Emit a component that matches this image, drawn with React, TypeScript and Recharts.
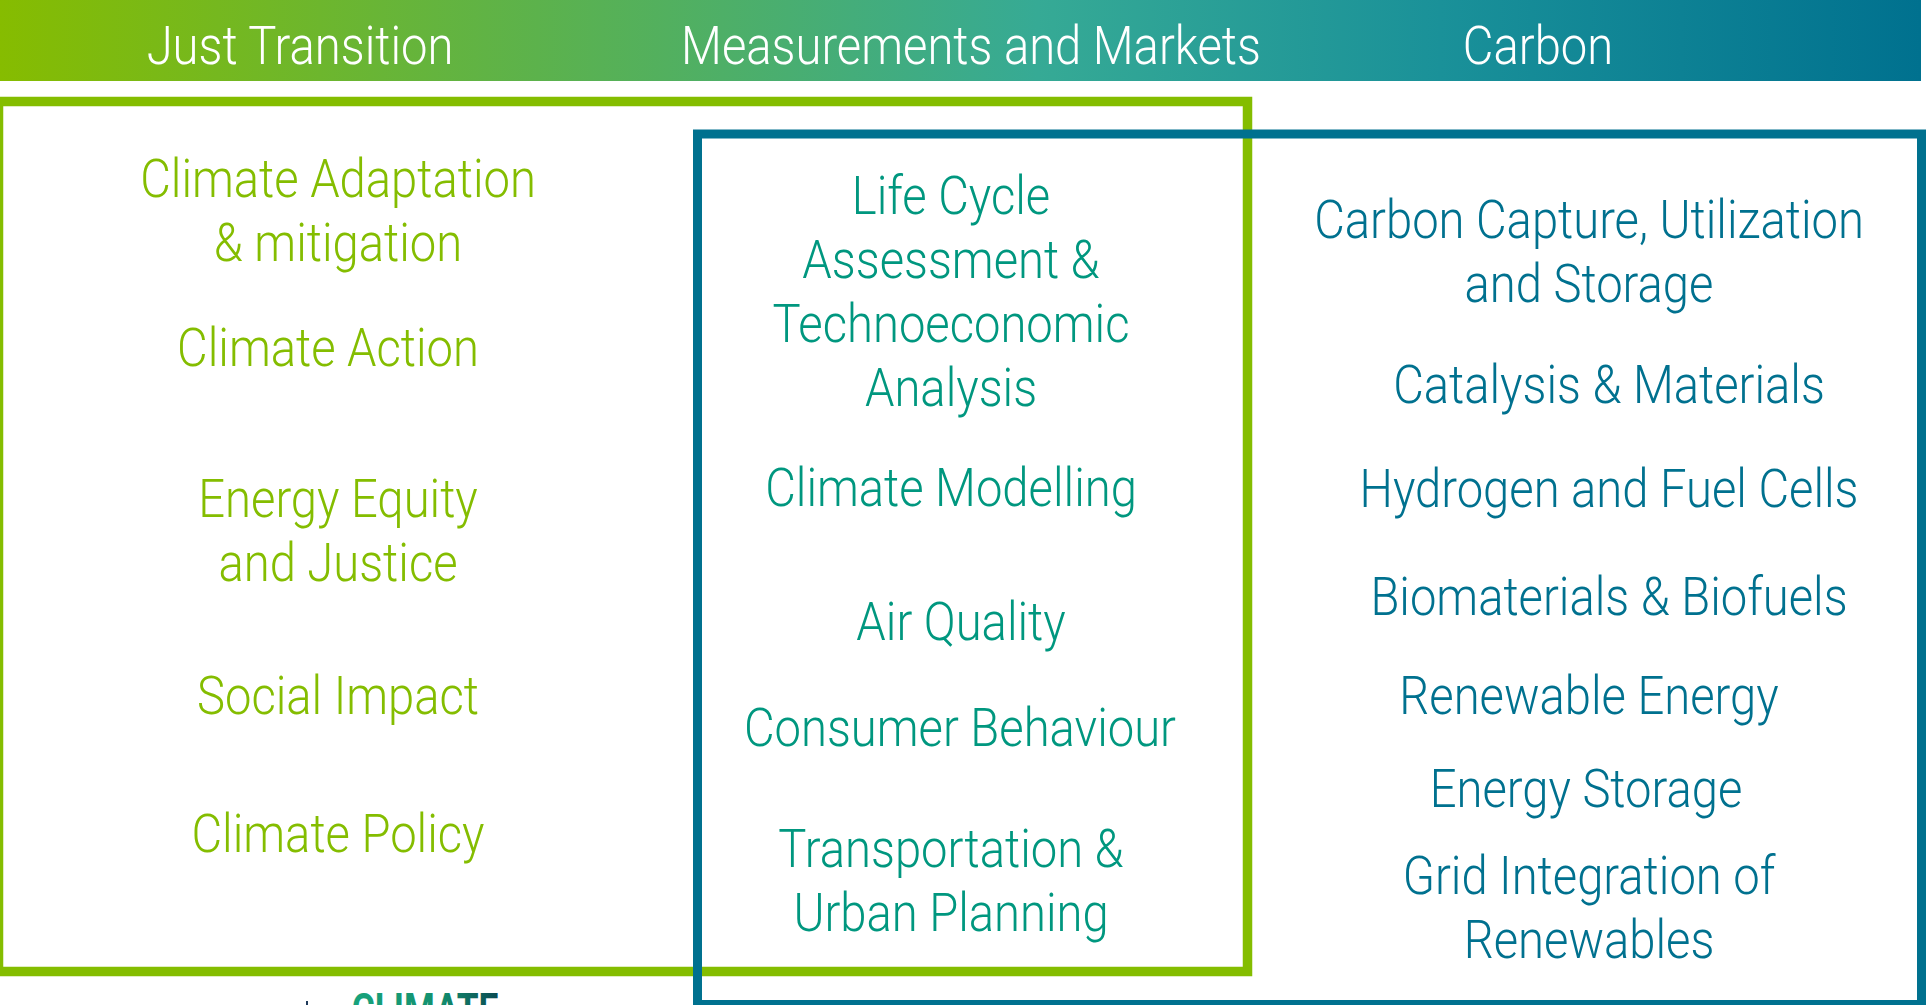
import React from "react";
import {
  ComposedChart,
  XAxis,
  YAxis,
  Scatter,
  ReferenceArea,
  ReferenceDot,
  Customized,
} from "recharts";

// ---------- content ----------
const pillarTitles = ["Just Transition", "Measurements and Markets", "Carbon"];

const justTransitionTopics = [
  "Climate Adaptation\n& mitigation",
  "Climate Action",
  "Energy Equity\nand Justice",
  "Social Impact",
  "Climate Policy",
];

const measurementTopics = [
  "Life Cycle\nAssessment &\nTechnoeconomic\nAnalysis",
  "Climate Modelling",
  "Air Quality",
  "Consumer Behaviour",
  "Transportation &\nUrban Planning",
];

const carbonTopics = [
  "Carbon Capture, Utilization\nand Storage",
  "Catalysis & Materials",
  "Hydrogen and Fuel Cells",
  "Biomaterials & Biofuels",
  "Renewable Energy",
  "Energy Storage",
  "Grid Integration of\nRenewables",
];

const logoText = "CLIMATE";

// ---------- layout (pixel-like domain units) ----------
const W = 1926;
const H = 1005;
const FONT = 53;
const LINE = 64;
const SX = 0.89;

const GREEN = "#84BD00";
const TEAL = "#00977F";
const BLUE = "#00718F";

const pillarCenters = [300, 971, 1538];
const pillarBaseline = 64;

const columnLayout = [
  { topics: justTransitionTopics, color: GREEN, centers: [338, 328, 338, 338, 338], baselines: [197, 366, 517, 714, 852] },
  { topics: measurementTopics, color: TEAL, centers: [951, 951, 961, 960, 951], baselines: [214, 506, 640, 746, 867] },
  { topics: carbonTopics, color: BLUE, centers: [1589, 1609, 1609, 1609, 1589, 1586, 1589], baselines: [238, 403, 507, 615, 714, 807, 894] },
];

function buildPoints(col: (typeof columnLayout)[number]) {
  const pts: { x: number; y: number; text: string }[] = [];
  col.topics.forEach((t, i) => {
    t.split("\n").forEach((line, j) => {
      pts.push({ x: col.centers[i], y: col.baselines[i] + j * LINE, text: line });
    });
  });
  return pts;
}

const pillarPoints = pillarTitles.map((t, i) => ({ x: pillarCenters[i], y: pillarBaseline, text: t }));

const makeTextShape = (color: string, weight = 300) => (props: any) => {
  const { cx, cy, payload } = props;
  if (cx == null || cy == null) return <g />;
  return (
    <text
      transform={`translate(${cx},${cy}) scale(${SX},1)`}
      x={0}
      y={0}
      textAnchor="middle"
      fill={color}
      fontFamily="Roboto, 'Noto Sans', sans-serif"
      fontWeight={weight}
      fontSize={FONT}
    >
      {payload.text}
    </text>
  );
};

const Defs = () => (
  <defs>
    <linearGradient id="bannerGrad" x1="0" y1="0" x2="1" y2="0">
      <stop offset="0" stopColor="#86BC00" />
      <stop offset="0.28" stopColor="#5CB24C" />
      <stop offset="0.54" stopColor="#36AA95" />
      <stop offset="0.75" stopColor="#1A9199" />
      <stop offset="1" stopColor="#00718F" />
    </linearGradient>
    <linearGradient id="logoGrad" x1="0" y1="0" x2="1" y2="0">
      <stop offset="0" stopColor="#17A37C" />
      <stop offset="0.6" stopColor="#13906F" />
      <stop offset="1" stopColor="#0B4A52" />
    </linearGradient>
  </defs>
);

export default function App() {
  return (
    <div style={{ position: "absolute", left: 0, top: 0, width: W, height: H, background: "#fff" }}>
      <ComposedChart width={W} height={H} margin={{ top: 0, right: 0, bottom: 0, left: 0 }}>
        <Customized component={Defs} />
        <XAxis type="number" dataKey="x" domain={[0, W]} hide allowDataOverflow />
        <YAxis type="number" dataKey="y" domain={[0, H]} reversed hide allowDataOverflow />

        {/* gradient banner */}
        <ReferenceArea x1={0} x2={1921} y1={0} y2={81} fill="url(#bannerGrad)" fillOpacity={1} stroke="none" ifOverflow="visible" />

        {/* green frame (Just Transition + Measurements) */}
        <ReferenceArea x1={-1.5} x2={1247.5} y1={101.5} y2={971.5} fill="none" fillOpacity={0} stroke={GREEN} strokeWidth={9.5} ifOverflow="visible" />
        {/* blue frame (Measurements + Carbon) */}
        <ReferenceArea x1={697.5} x2={1921.5} y1={134} y2={1004.5} fill="none" fillOpacity={0} stroke={BLUE} strokeWidth={9} ifOverflow="visible" />

        <Scatter data={pillarPoints} isAnimationActive={false} shape={makeTextShape("#FFFFFF", 300)} />
        {columnLayout.map((col, k) => (
          <Scatter key={k} data={buildPoints(col)} isAnimationActive={false} shape={makeTextShape(col.color, 300)} />
        ))}

        {/* cut-off logo at the bottom */}
        <ReferenceDot
          x={425}
          y={1025}
          r={0}
          ifOverflow="visible"
          shape={(p: any) => (
            <text
              transform={`translate(${p.cx},${p.cy}) scale(0.8,1)`}
              textAnchor="middle"
              fill="url(#logoGrad)"
              fontFamily="Roboto, sans-serif"
              fontWeight={700}
              fontSize={44}
            >
              {logoText}
            </text>
          )}
        />
        <ReferenceDot
          x={307}
          y={1003}
          r={0}
          ifOverflow="visible"
          shape={(p: any) => <rect x={p.cx - 1} y={p.cy - 2} width={2} height={6} fill="#1F3A5A" />}
        />
      </ComposedChart>
    </div>
  );
}
